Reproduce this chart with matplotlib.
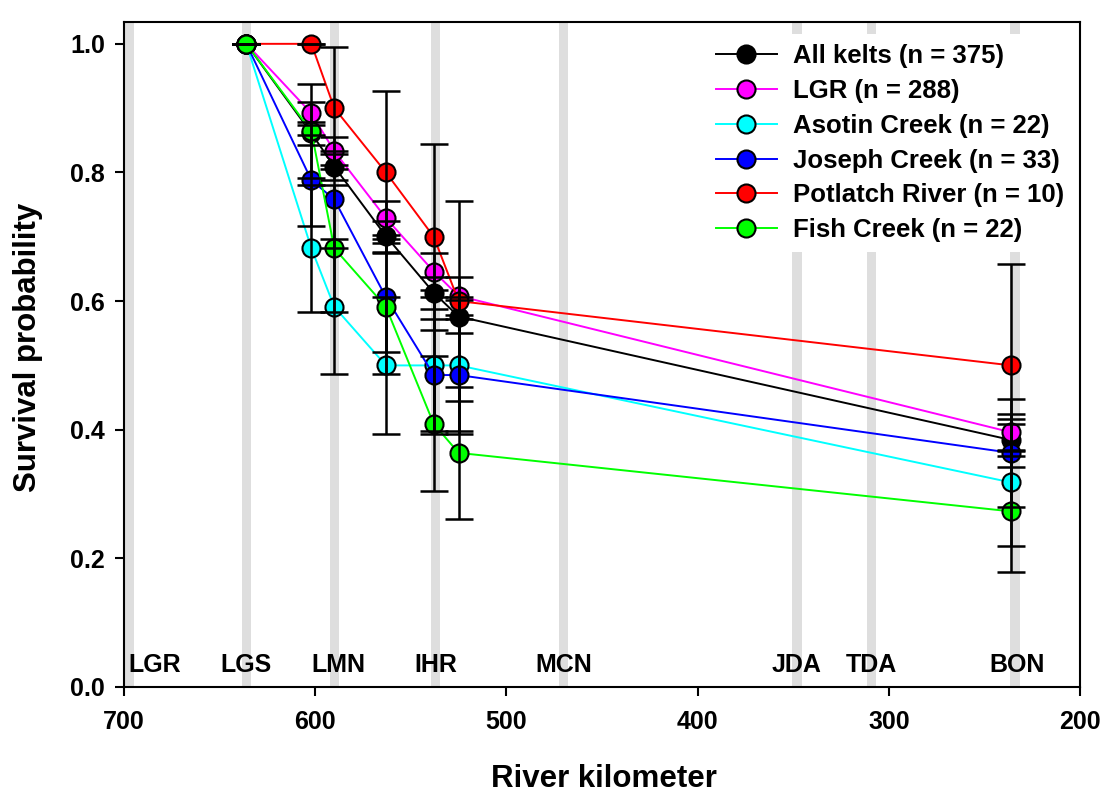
import numpy as np
import matplotlib
matplotlib.use('Agg')
import matplotlib.pyplot as plt

plt.rcParams.update({'font.family': ['Liberation Sans', 'DejaVu Sans'],
                     'font.weight': 'bold', 'font.size': 18})

# river km of the release site and detection sites
rkm = [636, 602, 590, 563, 538, 525, 236]

all_kelts = [1.0, 0.861, 0.809, 0.701, 0.613, 0.576, 0.384]
all_se = [0.0, 0.018, 0.020, 0.024, 0.025, 0.026, 0.025]
lgr = [1.0, 0.892, 0.833, 0.729, 0.646, 0.608, 0.396]
lgr_se = [0.0, 0.018, 0.022, 0.026, 0.028, 0.029, 0.029]
asotin = [1.0, 0.682, 0.591, 0.500, 0.500, 0.500, 0.318]
asotin_se = [0.0, 0.099, 0.105, 0.107, 0.107, 0.107, 0.099]
joseph = [1.0, 0.788, 0.758, 0.606, 0.485, 0.485, 0.364]
joseph_se = [0.0, 0.071, 0.075, 0.085, 0.087, 0.087, 0.084]
potlatch = [1.0, 1.0, 0.9, 0.8, 0.7, 0.6, 0.5]
potlatch_se = [0.0, 0.0, 0.095, 0.126, 0.145, 0.155, 0.158]
fish = [1.0, 0.864, 0.682, 0.591, 0.409, 0.364, 0.273]
fish_se = [0.0, 0.073, 0.099, 0.105, 0.105, 0.103, 0.095]

labels = ['All kelts (n = 375)', 'LGR (n = 288)', 'Asotin Creek (n = 22)',
          'Joseph Creek (n = 33)', 'Potlatch River (n = 10)', 'Fish Creek (n = 22)']
colors = ['black', 'magenta', 'cyan', 'blue', 'red', 'lime']

dams = ['LGR', 'LGS', 'LMN', 'IHR', 'MCN', 'JDA', 'TDA', 'BON']
dam_rkm = [697, 636, 590, 537, 470, 348, 309, 234]
dam_label_x = [684, 636, 588, 537, 470, 348, 309, 233]

series = [(all_kelts, all_se), (lgr, lgr_se), (asotin, asotin_se),
          (joseph, joseph_se), (potlatch, potlatch_se), (fish, fish_se)]

fig = plt.figure(figsize=(11.05, 7.93), dpi=100)
ax = fig.add_axes([0.1122, 0.1337, 0.8652, 0.8386])

for d in dam_rkm:
    ax.axvspan(d - 2.4, d + 2.4, color='#dedede', lw=0, zorder=0)
for name, xd in zip(dams, dam_label_x):
    ax.text(xd, 0.034, name, ha='center', va='center', fontsize=18,
            fontweight='bold', zorder=1)

for i, ((y, se), lab, c) in enumerate(zip(series, labels, colors)):
    ax.plot(rkm, y, '-o', color=c, lw=1.4, ms=13, mfc=c, mec='black',
            mew=1.5, label=lab, zorder=3 + i)
for i, (y, se) in enumerate(series):
    ax.errorbar(rkm, y, yerr=se, fmt='none', ecolor='black', elinewidth=1.8,
                capsize=10, capthick=1.8, zorder=10)

ax.set_xlim(700, 200)
ax.set_ylim(0, 1.034)
ax.set_xticks([700, 600, 500, 400, 300, 200])
ax.set_yticks([0.0, 0.2, 0.4, 0.6, 0.8, 1.0])
ax.set_yticklabels(['0.0', '0.2', '0.4', '0.6', '0.8', '1.0'])
ax.tick_params(direction='out', length=6.5, width=1.5, labelsize=18)
ax.tick_params(axis='x', pad=10)
ax.tick_params(axis='y', pad=7)
for sp in ax.spines.values():
    sp.set_linewidth(1.5)
    sp.set_zorder(30)

ax.set_xlabel('River kilometer', fontsize=22.5, fontweight='bold', va='center')
ax.set_ylabel('Survival probability', fontsize=22.5, fontweight='bold', va='center')
ax.xaxis.set_label_coords(0.502, -0.138)
ax.yaxis.set_label_coords(-0.100, 0.511)

leg = ax.legend(loc='upper left', bbox_to_anchor=(0.608, 0.982), fontsize=18.5,
                frameon=True, facecolor='white', edgecolor='none', framealpha=1,
                handlelength=2.4, handletextpad=0.6, labelspacing=0.42,
                borderpad=0.4, borderaxespad=0.0)
leg.set_zorder(20)
for t in leg.get_texts():
    t.set_fontweight('bold')

fig.savefig('out.png', dpi=100)
